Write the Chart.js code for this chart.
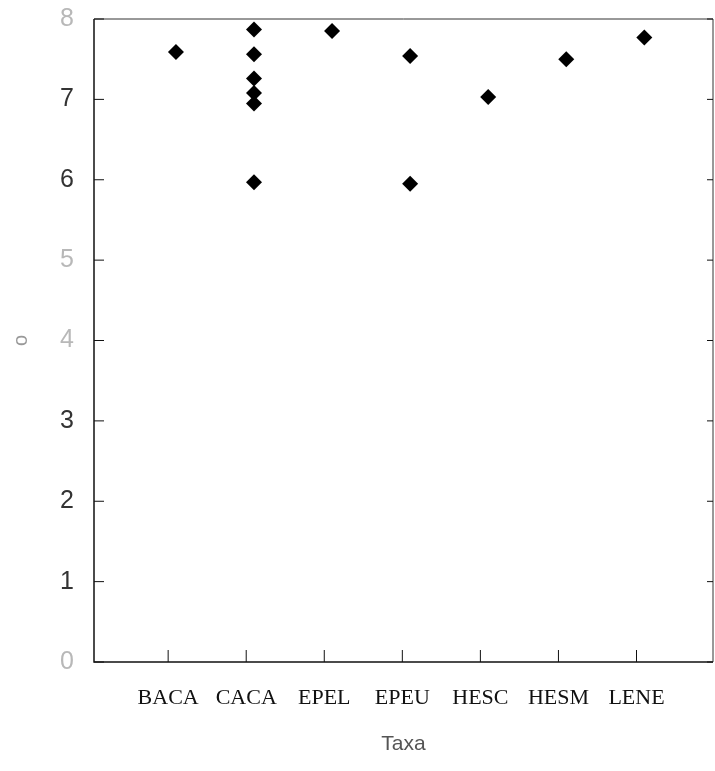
<!DOCTYPE html>
<html>
<head>
<meta charset="utf-8">
<title>Taxa</title>
<script src="https://cdn.jsdelivr.net/npm/chart.js@4.4.1/dist/chart.umd.min.js"></script>
<style>
  html, body { margin: 0; padding: 0; background: #fff; }
  #wrap { width: 715px; height: 771px; }
</style>
</head>
<body>
<div id="wrap"><canvas id="taxaChart"></canvas></div>
<script>
// categories along the x axis
const taxa = ['BACA', 'CACA', 'EPEL', 'EPEU', 'HESC', 'HESM', 'LENE'];
// one entry per diamond: index of its taxon, and its value
const pointTaxon = [0, 1, 1, 1, 1, 1, 1, 2, 3, 3, 4, 5, 6];
const pointValue = [7.59, 7.87, 7.56, 7.26, 7.08, 6.95, 5.97, 7.85, 7.54, 5.95, 7.03, 7.50, 7.77];
// y axis ticks, and the ones that came out faint on the scan
const yTicks = [0, 1, 2, 3, 4, 5, 6, 7, 8];
const fadedTicks = [0, 4, 5, 8];

// Frame round the plot with short inward tick marks
const framePlugin = {
    id: 'frame',
    afterDraw: function(chart) {
        const ctx = chart.ctx;
        const area = chart.chartArea;
        const xs = chart.scales.x;
        const ys = chart.scales.y;
        ctx.save();
        ctx.strokeStyle = '#111';

        // left and bottom axes
        ctx.lineWidth = 1.5;
        ctx.beginPath();
        ctx.moveTo(area.left, area.top);
        ctx.lineTo(area.left, area.bottom);
        ctx.lineTo(area.right, area.bottom);
        ctx.stroke();

        // top and right edges, lighter
        ctx.lineWidth = 1;
        ctx.strokeStyle = '#333';
        ctx.beginPath();
        ctx.moveTo(area.left, area.top);
        ctx.lineTo(area.right, area.top);
        ctx.lineTo(area.right, area.bottom);
        ctx.stroke();

        // y ticks on both sides
        ctx.strokeStyle = '#111';
        ys.ticks.forEach(function(t) {
            const y = ys.getPixelForValue(t.value);
            ctx.beginPath();
            ctx.moveTo(area.left, y);
            ctx.lineTo(area.left + 10, y);
            ctx.moveTo(area.right, y);
            ctx.lineTo(area.right - 6, y);
            ctx.stroke();
        });

        // x ticks pointing up from the bottom axis
        xs.ticks.forEach(function(t) {
            const x = xs.getPixelForValue(t.value);
            ctx.beginPath();
            ctx.moveTo(x, area.bottom);
            ctx.lineTo(x, area.bottom - 12);
            ctx.stroke();
        });
        ctx.restore();
    }
};

const points = pointValue.map(function(v, i) {
    return { x: pointTaxon[i], y: v };
});

new Chart(document.getElementById('taxaChart'), {
    type: 'scatter',
    data: {
        datasets: [{
            data: points,
            pointStyle: 'rectRot',
            pointRadius: 8,
            pointHoverRadius: 8,
            backgroundColor: '#000',
            borderColor: '#000',
            borderWidth: 0
        }]
    },
    options: {
        responsive: true,
        maintainAspectRatio: false,
        animation: false,
        layout: {
            autoPadding: false,
            padding: { top: 19, right: 2, left: 0, bottom: 0 }
        },
        plugins: {
            legend: { display: false },
            tooltip: { enabled: false }
        },
        scales: {
            x: {
                type: 'linear',
                min: -1.05,
                max: 6.88,
                grid: { display: false, drawTicks: false },
                border: { display: false },
                afterBuildTicks: function(scale) {
                    scale.ticks = taxa.map(function(_, i) { return { value: i - 0.1 }; });
                },
                afterFit: function(scale) {
                    scale.height = 109;
                    scale.paddingLeft = 0;
                    scale.paddingRight = 0;
                },
                ticks: {
                    autoSkip: false,
                    maxRotation: 0,
                    padding: 23,
                    color: '#111',
                    font: { family: '"Liberation Serif", serif', size: 22 },
                    callback: function(v) { return taxa[Math.round(v)]; }
                },
                title: {
                    display: true,
                    text: 'Taxa',
                    color: '#555',
                    font: { family: '"Liberation Sans", sans-serif', size: 21 },
                    padding: { top: 0, bottom: 14 }
                }
            },
            y: {
                min: 0,
                max: 8,
                grid: { display: false, drawTicks: false },
                border: { display: false },
                afterBuildTicks: function(scale) {
                    scale.ticks = yTicks.map(function(v) { return { value: v }; });
                },
                afterFit: function(scale) {
                    scale.width = 94;
                    scale.paddingTop = 0;
                    scale.paddingBottom = 0;
                },
                ticks: {
                    padding: 20,
                    color: function(c) {
                        return fadedTicks.includes(c.tick.value) ? '#b8b8b8' : '#333';
                    },
                    font: { family: '"Liberation Sans", sans-serif', size: 25 }
                },
                title: {
                    display: true,
                    text: 'o',
                    color: '#999',
                    font: { family: '"Liberation Sans", sans-serif', size: 20 },
                    padding: { top: 9, bottom: 0 }
                }
            }
        }
    },
    plugins: [framePlugin]
});
</script>
</body>
</html>
